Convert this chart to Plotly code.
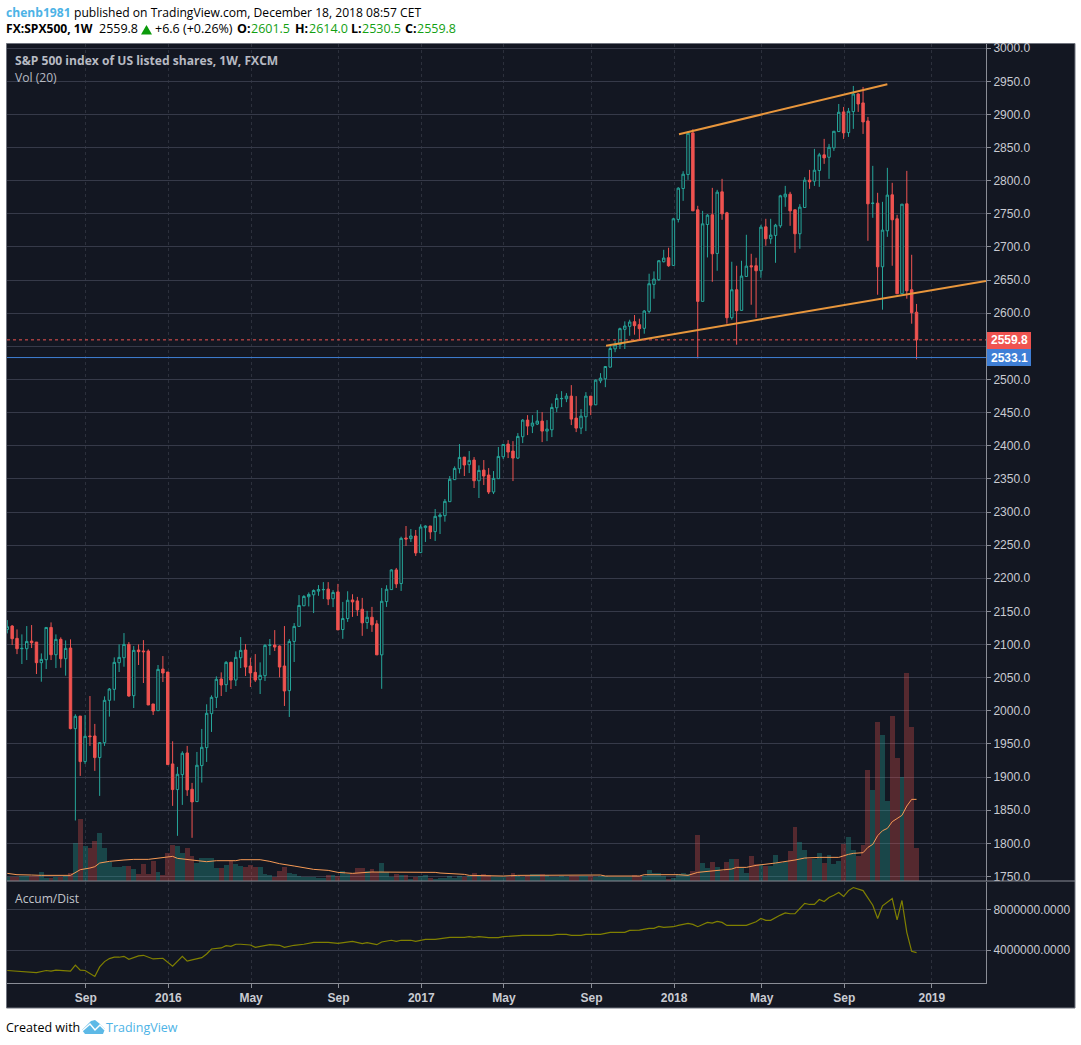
import pandas as pd
import plotly.graph_objects as go

# weekly SPX500 bars
dates = pd.date_range("2015-05-18", periods=188, freq="7D")

opens = [2122.8,2127.9,2109.3,2093.7,2093.7,2105.2,2103.7,2072.6,2077.1,2125.8,2084.6,2107.8,2078.6,2094.7,1973.1,1992.0,1923.3,1962.0,1962.0,1929.4,
 1952.0,2015.8,2032.4,2072.6,2080.1,2100.2,2022.8,2091.7,2090.2,2090.2,2010.3,2000.2,2063.0,2058.5,1919.8,1881.1,1903.7,1936.4,1881.6,1863.0,
 1917.3,1944.4,1995.7,2020.3,2048.0,2039.4,2073.1,2046.4,2080.1,2091.7,2067.6,2058.0,2047.0,2053.0,2098.7,2099.2,2097.7,2067.6,2030.4,2104.7,
 2127.4,2158.5,2172.1,2175.1,2180.6,2182.6,2183.6,2169.1,2179.4,2122.6,2139.2,2167.3,2165.8,2153.3,2133.2,2141.2,2131.2,2084.4,2164.8,2182.9,
 2212.6,2192.0,2260.8,2259.8,2263.8,2238.7,2276.4,2278.9,2270.4,2293.0,2294.5,2315.6,2348.8,2365.3,2382.9,2371.4,2378.4,2347.2,2363.3,2355.8,
 2330.2,2350.3,2383.4,2402.5,2392.0,2381.4,2413.6,2438.7,2429.7,2432.7,2437.2,2422.1,2424.1,2457.3,2470.9,2470.9,2474.9,2441.7,2426.6,2443.7,
 2474.9,2461.8,2498.0,2501.0,2518.6,2546.2,2552.5,2575.7,2580.2,2587.2,2582.7,2577.2,2602.8,2643.5,2650.5,2677.7,2683.7,2672.1,2741.5,2788.2,
 2809.3,2872.1,2756.1,2617.9,2733.9,2748.5,2690.2,2783.2,2751.5,2593.2,2635.4,2604.3,2655.5,2671.6,2671.6,2664.1,2730.4,2712.3,2717.4,2731.9,
 2775.6,2779.7,2756.1,2719.9,2759.6,2800.8,2799.3,2815.3,2839.0,2835.4,2849.5,2874.1,2903.8,2872.6,2904.3,2930.9,2917.4,2890.2,2765.6,2766.1,
 2670.1,2724.4,2778.7,2742.5,2629.4,2765.1,2635.4,2601.5]
highs = [2136.9,2129.4,2122.8,2115.3,2127.9,2129.4,2103.7,2086.6,2126.3,2133.4,2115.3,2110.8,2106.2,2107.8,1994.7,1992.0,1993.7,2022.3,1980.2,1952.5,
 2021.8,2034.4,2080.6,2100.2,2117.3,2103.7,2097.7,2100.2,2106.7,2092.7,2010.3,2069.1,2082.6,2058.5,1954.0,1915.3,1938.9,1947.0,1891.2,1937.9,
 1972.6,2009.8,2023.3,2052.0,2058.0,2075.1,2074.1,2089.7,2111.3,2100.7,2080.1,2085.6,2073.1,2100.7,2108.3,2121.8,2098.7,2127.9,2108.3,2132.4,
 2174.6,2174.6,2178.6,2183.1,2189.7,2194.2,2194.2,2182.1,2191.5,2164.3,2180.4,2175.9,2171.9,2170.4,2150.8,2156.8,2136.7,2185.4,2189.5,2213.6,
 2215.6,2262.8,2278.9,2274.4,2272.9,2281.4,2279.9,2278.9,2304.5,2298.5,2319.6,2354.3,2368.9,2402.5,2382.9,2392.0,2382.9,2370.4,2378.4,2366.3,
 2361.8,2398.0,2402.5,2408.5,2407.0,2419.1,2440.2,2446.2,2446.2,2453.8,2450.8,2438.7,2463.8,2477.9,2482.4,2479.4,2491.5,2474.9,2455.3,2480.9,
 2474.9,2500.0,2509.6,2520.1,2552.3,2557.8,2578.2,2587.7,2590.2,2597.3,2591.7,2604.8,2659.6,2663.1,2680.2,2695.7,2698.8,2744.0,2790.2,2814.3,
 2874.6,2877.7,2762.1,2754.5,2749.5,2789.2,2786.2,2802.8,2753.0,2677.7,2671.6,2679.2,2718.4,2689.7,2683.7,2733.4,2742.5,2742.5,2734.9,2778.7,
 2792.2,2783.2,2756.1,2764.6,2805.3,2816.3,2848.0,2842.0,2863.1,2855.5,2875.1,2915.8,2911.3,2909.8,2943.0,2931.9,2941.5,2896.2,2822.4,2781.7,
 2768.1,2819.4,2796.8,2748.5,2764.6,2814.8,2688.2,2614.0]
lows = [2116.8,2099.2,2085.6,2070.6,2076.6,2094.7,2055.5,2043.9,2063.0,2076.6,2064.5,2065.0,2053.0,1972.1,1834.4,1901.7,1919.8,1947.0,1909.3,1871.6,
 1947.0,1991.2,2015.3,2058.5,2066.5,2021.3,2004.2,2069.1,2041.9,2008.8,1993.7,2000.2,2043.4,1918.3,1856.5,1811.3,1858.0,1871.6,1808.3,1863.0,
 1891.7,1922.8,1968.1,2004.2,2022.3,2028.4,2032.9,2037.4,2064.5,2052.5,2035.9,2043.4,2025.3,2044.9,2084.1,2090.2,2050.5,2007.3,1990.7,2073.6,
 2126.9,2158.0,2157.5,2147.5,2173.6,2168.6,2159.5,2156.5,2122.1,2108.6,2134.2,2141.7,2143.2,2113.1,2123.6,2119.1,2084.4,2033.2,2156.8,2182.4,
 2185.4,2180.9,2248.8,2254.8,2233.7,2238.7,2254.8,2259.3,2256.3,2266.8,2285.4,2315.6,2348.3,2358.3,2354.3,2358.8,2336.2,2321.1,2340.7,2327.1,
 2327.1,2350.3,2379.9,2381.4,2346.7,2379.9,2404.0,2416.1,2419.1,2431.2,2405.5,2407.0,2413.1,2450.8,2458.3,2465.8,2431.2,2420.6,2417.6,2422.1,
 2446.2,2461.3,2494.5,2488.4,2518.6,2541.2,2546.0,2546.0,2566.1,2567.6,2561.1,2569.1,2599.8,2621.9,2649.0,2676.7,2670.1,2672.1,2737.0,2769.6,
 2801.3,2754.5,2531.9,2617.9,2684.2,2647.5,2664.1,2741.0,2584.2,2590.2,2552.5,2603.8,2655.0,2612.8,2593.2,2653.5,2701.8,2704.8,2676.1,2728.9,
 2760.6,2731.9,2691.2,2697.3,2759.1,2787.7,2792.2,2790.7,2825.4,2802.8,2845.0,2873.6,2863.1,2866.1,2878.2,2903.8,2870.6,2709.3,2744.0,2627.9,
 2605.3,2715.3,2671.6,2629.4,2629.4,2621.9,2584.2,2530.5]
closes = [2126.9,2108.8,2093.7,2094.2,2104.7,2102.7,2072.6,2077.6,2125.8,2084.6,2107.8,2078.6,2094.2,1973.1,1991.7,1923.3,1961.5,1961.0,1929.4,1952.0,
 2015.8,2032.9,2073.1,2080.6,2100.2,2022.3,2091.2,2089.2,2089.2,2008.8,1999.7,2062.5,2057.0,1918.8,1881.1,1904.2,1935.9,1880.6,1862.5,1917.8,
 1944.9,1996.2,2020.3,2047.5,2038.9,2073.1,2046.4,2080.6,2091.2,2066.0,2057.0,2046.4,2053.5,2098.7,2099.2,2096.2,2066.0,2029.9,2104.7,2127.4,
 2159.0,2172.6,2175.6,2181.6,2183.1,2183.1,2168.6,2178.6,2122.1,2139.2,2166.8,2164.3,2152.3,2132.7,2141.2,2129.7,2084.4,2165.3,2183.4,2212.6,
 2191.5,2260.3,2259.3,2263.8,2238.2,2277.4,2278.9,2269.9,2293.5,2295.5,2316.1,2349.3,2365.8,2382.4,2370.9,2377.9,2347.2,2362.8,2354.3,2330.2,
 2350.8,2383.9,2402.0,2390.5,2381.4,2414.1,2438.7,2429.7,2434.2,2437.2,2422.1,2425.1,2457.8,2471.4,2471.4,2474.9,2440.2,2426.6,2444.7,2474.9,
 2461.3,2499.0,2502.0,2519.6,2546.7,2552.3,2576.7,2580.7,2586.7,2581.2,2576.7,2603.3,2644.5,2651.5,2679.2,2683.2,2671.6,2742.5,2788.7,2809.8,
 2871.6,2754.5,2617.9,2734.9,2748.0,2689.7,2782.7,2750.0,2593.2,2635.4,2603.8,2656.1,2671.1,2670.1,2664.1,2729.9,2712.3,2717.9,2732.9,2777.2,
 2779.7,2754.5,2719.9,2760.1,2800.8,2798.3,2815.8,2839.0,2834.4,2850.5,2874.6,2903.3,2872.1,2904.8,2930.9,2915.8,2888.7,2765.1,2766.1,2670.1,
 2725.4,2778.2,2741.0,2629.4,2764.6,2633.9,2600.8,2559.8]

# volume in arbitrary units, one per bar
volume = [12,13,13,15,15,16,16,27,10,8,13,13,16,23,114,186,105,98,120,144,
 99,58,42,42,45,45,36,21,51,21,60,27,18,84,108,105,84,99,75,54,
 69,69,69,39,39,48,60,51,45,42,48,42,42,21,18,13,30,42,24,21,
 15,12,12,12,9,9,18,18,15,29,21,24,40,40,31,37,28,55,27,12,
 22,19,19,7,11,16,19,10,6,10,10,15,10,16,11,16,25,14,22,19,
 12,12,12,12,25,16,12,16,22,21,22,19,11,11,16,12,16,16,16,16,
 16,12,16,16,12,12,12,12,12,19,14,16,34,25,25,16,7,10,20,24,
 21,30,138,54,39,57,42,30,57,66,66,39,24,75,51,51,45,45,78,54,
 57,90,162,117,93,66,66,84,54,78,51,60,112,132,93,75,108,333,273,477,
 438,240,495,369,312,624,462,99]

# vol(20) average, bar number and value
vol_ma_bar = [1,3,6,8,14,16,18,19,20,22,25,27,30,33,35,36,38,40,42,44,48,49,53,55,57,60,64,67,69,72,76,89,90,95,96,103,106,123,124,131,132,139,
 141,143,146,150,151,153,155,158,159,163,165,168,172,174,175,177,178,179,180,181,182,183,185,186,187,188]
vol_ma = [23,19,18,17,17,34,39,43,54,59,63,65,65,71,74,68,65,60,58,61,61,64,64,59,52,45,35,32,26,23,27,26,24,20,17,15,17,18,15,15,19,19,
 17,26,30,36,41,41,47,52,54,63,69,71,71,80,83,85,101,110,136,151,158,178,197,225,245,245]

# accum/dist in millions, bar number and value
ad_bar = [1,4,6,7,9,10,11,14,15,16,17,19,20,21,22,23,24,25,26,27,28,29,31,33,34,35,37,38,39,41,42,43,45,46,47,48,49,51,52,54,55,57,58,60,62,64,67,
 69,70,72,74,75,77,78,80,81,82,84,85,87,89,91,92,95,96,97,98,100,102,103,105,107,113,114,116,117,119,120,123,125,128,129,131,133,134,135,136,138,139,
 141,142,143,145,146,147,148,149,153,155,156,157,158,160,161,162,163,165,166,167,168,169,170,171,172,173,174,175,177,179,180,181,183,184,185,186,187,188]
ad_val = [2.02,1.92,1.92,1.82,2.02,1.95,2.05,1.95,2.54,2.05,2.02,1.43,2.37,2.89,3.19,3.32,3.32,3.41,3.12,3.32,3.45,3.51,3.15,3.22,2.83,2.44,3.41,2.93,3.06,3.28,3.64,4.13,4.23,4.46,4.39,4.59,4.59,4.52,4.29,4.49,4.55,4.49,4.29,4.49,4.59,4.78,4.78,
 4.68,4.75,4.88,4.65,4.75,4.55,4.81,4.98,4.88,4.98,4.98,4.88,5.07,5.07,5.17,5.27,5.27,5.33,5.27,5.33,5.24,5.24,5.33,5.37,5.46,5.46,5.56,5.56,5.46,5.46,5.56,5.56,5.76,5.76,5.95,5.98,6.15,6.15,6.34,6.24,6.31,6.44,
 6.63,6.54,6.31,6.73,6.67,6.83,6.73,6.44,6.44,6.80,7.12,6.93,6.93,7.45,7.67,7.58,7.58,8.59,8.49,8.49,8.98,8.78,9.17,9.40,9.66,9.27,9.85,10.15,9.85,8.42,7.12,8.36,9.07,6.99,8.88,5.76,3.90,3.77]

# the two hand drawn channel lines
trend_top_x = ["2018-01-09", "2018-11-05"]
trend_top_y = [2870.1, 2945.5]
trend_low_x = ["2017-09-26", "2019-03-27"]
trend_low_y = [2551.0, 2648.8]

tick_dates = ["2015-09-08","2016-01-05","2016-05-03","2016-09-06","2017-01-03","2017-05-02","2017-09-05","2018-01-02","2018-05-08","2018-09-04","2019-01-08"]
tick_text = ["Sep","2016","May","Sep","2017","May","Sep","2018","May","Sep","2019"]

# 2550 sits behind the price tags, so it keeps its gridline but no text
price_ticks = [1750,1800,1850,1900,1950,2000,2050,2100,2150,2200,2250,2300,2350,2400,2450,2500,2550,2600,2650,2700,2750,2800,2850,2900,2950,3000]
price_text = ["1750.0","1800.0","1850.0","1900.0","1950.0","2000.0","2050.0","2100.0","2150.0","2200.0","2250.0","2300.0","2350.0","2400.0","2450.0","2500.0","","2600.0","2650.0","2700.0","2750.0","2800.0","2850.0","2900.0","2950.0","3000.0"]

BG = "#131722"
GRID = "#363a49"
AXIS = "#8a8d96"
LABEL = "#c9cbd2"
TEAL = "#26a69a"
RED = "#ef5350"
TAG_BLUE = "#3f7fd6"
ORANGE = "#e8963c"
BLUE_TEXT = "#4db3e6"
GREEN = "#12a012"


# page pixels -> paper fractions of the plot area
def px(x):
    return (x - 7) / 979


def py(y):
    return (983 - y) / 939


def label(x, y, text, color="#000000", size=12.1, family="Open Sans"):
    # annotations keep about a pixel of padding on the left
    return dict(xref="paper", yref="paper", x=px(x - 1.5), y=py(y), text=text, showarrow=False,
                xanchor="left", yanchor="middle", align="left", borderpad=0,
                font=dict(color=color, size=size, family=family))


def tag(y0, y1, color):
    return dict(type="rect", xref="paper", yref="paper", x0=px(987), x1=px(1031), y0=py(y1), y1=py(y0),
                fillcolor=color, line_width=0)


def poly(points):
    return " ".join(("M" if i == 0 else "L") + f"{px(x)},{py(y)}" for i, (x, y) in enumerate(points))


vol_colors = ["rgba(38,166,154,0.33)" if c >= o else "rgba(239,83,80,0.3)" for o, c in zip(opens, closes)]

fig = go.Figure()
fig.add_trace(go.Bar(x=dates, y=volume, marker=dict(color=vol_colors, line_width=0), yaxis="y"))
fig.add_trace(go.Scatter(x=[dates[b - 1] for b in vol_ma_bar], y=vol_ma, mode="lines",
                         line=dict(color="#f79a55", width=1), yaxis="y"))
fig.add_trace(go.Candlestick(x=dates, open=opens, high=highs, low=lows, close=closes, yaxis="y2",
                             whiskerwidth=0,
                             increasing=dict(line=dict(color=TEAL, width=1), fillcolor=BG),
                             decreasing=dict(line=dict(color=RED, width=1), fillcolor=RED)))
fig.add_trace(go.Scatter(x=trend_top_x, y=trend_top_y, mode="lines", line=dict(color=ORANGE, width=2), yaxis="y2"))
fig.add_trace(go.Scatter(x=trend_low_x, y=trend_low_y, mode="lines", line=dict(color=ORANGE, width=2), yaxis="y2"))
fig.add_trace(go.Scatter(x=[dates[b - 1] for b in ad_bar], y=[v * 1000000 for v in ad_val], mode="lines",
                         line=dict(color="#808000", width=1.2), yaxis="y3"))

shapes = [
    dict(type="rect", xref="paper", yref="paper", x0=px(6.5), x1=px(1075), y0=py(1008), y1=py(43.5),
         fillcolor=BG, line=dict(color="#70747e", width=1), layer="below"),
    dict(type="line", xref="paper", yref="paper", x0=px(7), x1=px(1075), y0=py(881), y1=py(881),
         line=dict(color=AXIS, width=1)),
    dict(type="line", xref="paper", yref="y2", x0=0, x1=1, y0=2559.8, y1=2559.8,
         line=dict(color=RED, width=1, dash="dot")),
    dict(type="line", xref="paper", yref="y2", x0=0, x1=1, y0=2533.1, y1=2533.1,
         line=dict(color=TAG_BLUE, width=1)),
    tag(332, 349, RED),
    tag(349, 366, TAG_BLUE),
    # green arrow in the header
    dict(type="path", xref="paper", yref="paper", fillcolor="#0a9a0a", line_width=0,
         path=poly([(141, 34.5), (146.5, 25), (152, 34.5)]) + " Z"),
    # TradingView logo
    dict(type="path", xref="paper", yref="paper", fillcolor="#5db9e6", line_width=0,
         path=poly([(82, 1030), (86, 1026), (91, 1021), (95, 1020), (100, 1024), (105, 1029), (103, 1034), (85, 1034)]) + " Z"),
    dict(type="path", xref="paper", yref="paper", line=dict(color="#ffffff", width=1.5),
         path=poly([(82, 1031), (90, 1024), (95, 1030), (100, 1025), (105, 1030)])),
]

annotations = [
    label(6, 13, "<b>chenb1981</b>", color=BLUE_TEXT),
    label(74, 13, "published on TradingView.com, December 18, 2018 08:57 CET"),
    label(6, 29, "<b>FX:SPX500, 1W</b>"),
    label(99, 29, "2559.8", size=12.5),
    label(155, 29, "+6.6 (+0.26%)", size=12.5),
    label(237, 29, "<b>O:</b>", size=12.5),
    label(251, 29, "2601.5", color=GREEN, size=12.5),
    label(295, 29, "<b>H:</b>", size=12.5),
    label(309, 29, "2614.0", color=GREEN, size=12.5),
    label(351, 29, "<b>L:</b>", size=12.5),
    label(362, 29, "2530.5", color=GREEN, size=12.5),
    label(405, 29, "<b>C:</b>", size=12.5),
    label(417, 29, "2559.8", color=GREEN, size=12.5),
    label(15, 60, "<b>S&P 500 index of US listed shares, 1W, FXCM</b>", color="#b7bac2"),
    label(15, 78, "Vol (20)", color="#b7bac2"),
    label(15, 898, "Accum/Dist", color="#c2c4cb"),
    label(6, 1027, "Created with", size=12.5),
    label(106, 1027, "TradingView", color=BLUE_TEXT, size=12.5),
    dict(xref="paper", yref="y2", x=px(1009), y=2559.8, text="<b>2559.8</b>", showarrow=False, xanchor="center",
         borderpad=0, font=dict(color="#ffffff", size=12, family="Liberation Sans")),
    dict(xref="paper", yref="y2", x=px(1009), y=2533.1, text="<b>2533.1</b>", showarrow=False, xanchor="center",
         borderpad=0, font=dict(color="#ffffff", size=12, family="Liberation Sans")),
]

tick_font = dict(color=LABEL, size=12, family="Liberation Sans")

fig.update_layout(
    width=1081,
    height=1045,
    margin=dict(l=7, r=95, t=44, b=62),
    paper_bgcolor="#ffffff",
    plot_bgcolor=BG,
    showlegend=False,
    bargap=0,
    boxgap=0.28,
    shapes=shapes,
    annotations=annotations,
    xaxis=dict(
        type="date",
        range=["2015-05-17 14:00", "2019-03-27"],
        anchor="y3",
        tickmode="array",
        tickvals=tick_dates,
        ticktext=tick_text,
        tickfont=dict(color=LABEL, size=12, family="Liberation Sans", weight="bold"),
        ticks="outside",
        ticklen=4,
        tickcolor=AXIS,
        showline=True,
        linecolor=AXIS,
        showgrid=True,
        gridcolor="#2c303c",
        griddash="dot",
        rangeslider=dict(visible=False),
    ),
    yaxis=dict(domain=[0.1086, 1], range=[0, 2511], visible=False, fixedrange=True),
    yaxis2=dict(
        overlaying="y",
        side="right",
        anchor="x",
        range=[1743.1, 3006.3],
        tickmode="array",
        tickvals=price_ticks,
        ticktext=price_text,
        tickfont=tick_font,
        ticks="outside",
        ticklen=4,
        tickcolor=AXIS,
        showline=True,
        linecolor=AXIS,
        gridcolor=GRID,
        zeroline=False,
    ),
    yaxis3=dict(
        domain=[0, 0.1076],
        side="right",
        anchor="x",
        range=[794000, 10696000],
        tickvals=[4000000, 8000000],
        ticktext=["4000000.0000", "8000000.0000"],
        tickfont=tick_font,
        ticks="outside",
        ticklen=4,
        tickcolor=AXIS,
        showline=True,
        linecolor=AXIS,
        gridcolor=GRID,
        zeroline=False,
    ),
)

# drop the browser's default body margin so the page lines up with the window
fig.write_html("out.html", config={"displayModeBar": False}, post_script="document.body.style.margin='0';")
